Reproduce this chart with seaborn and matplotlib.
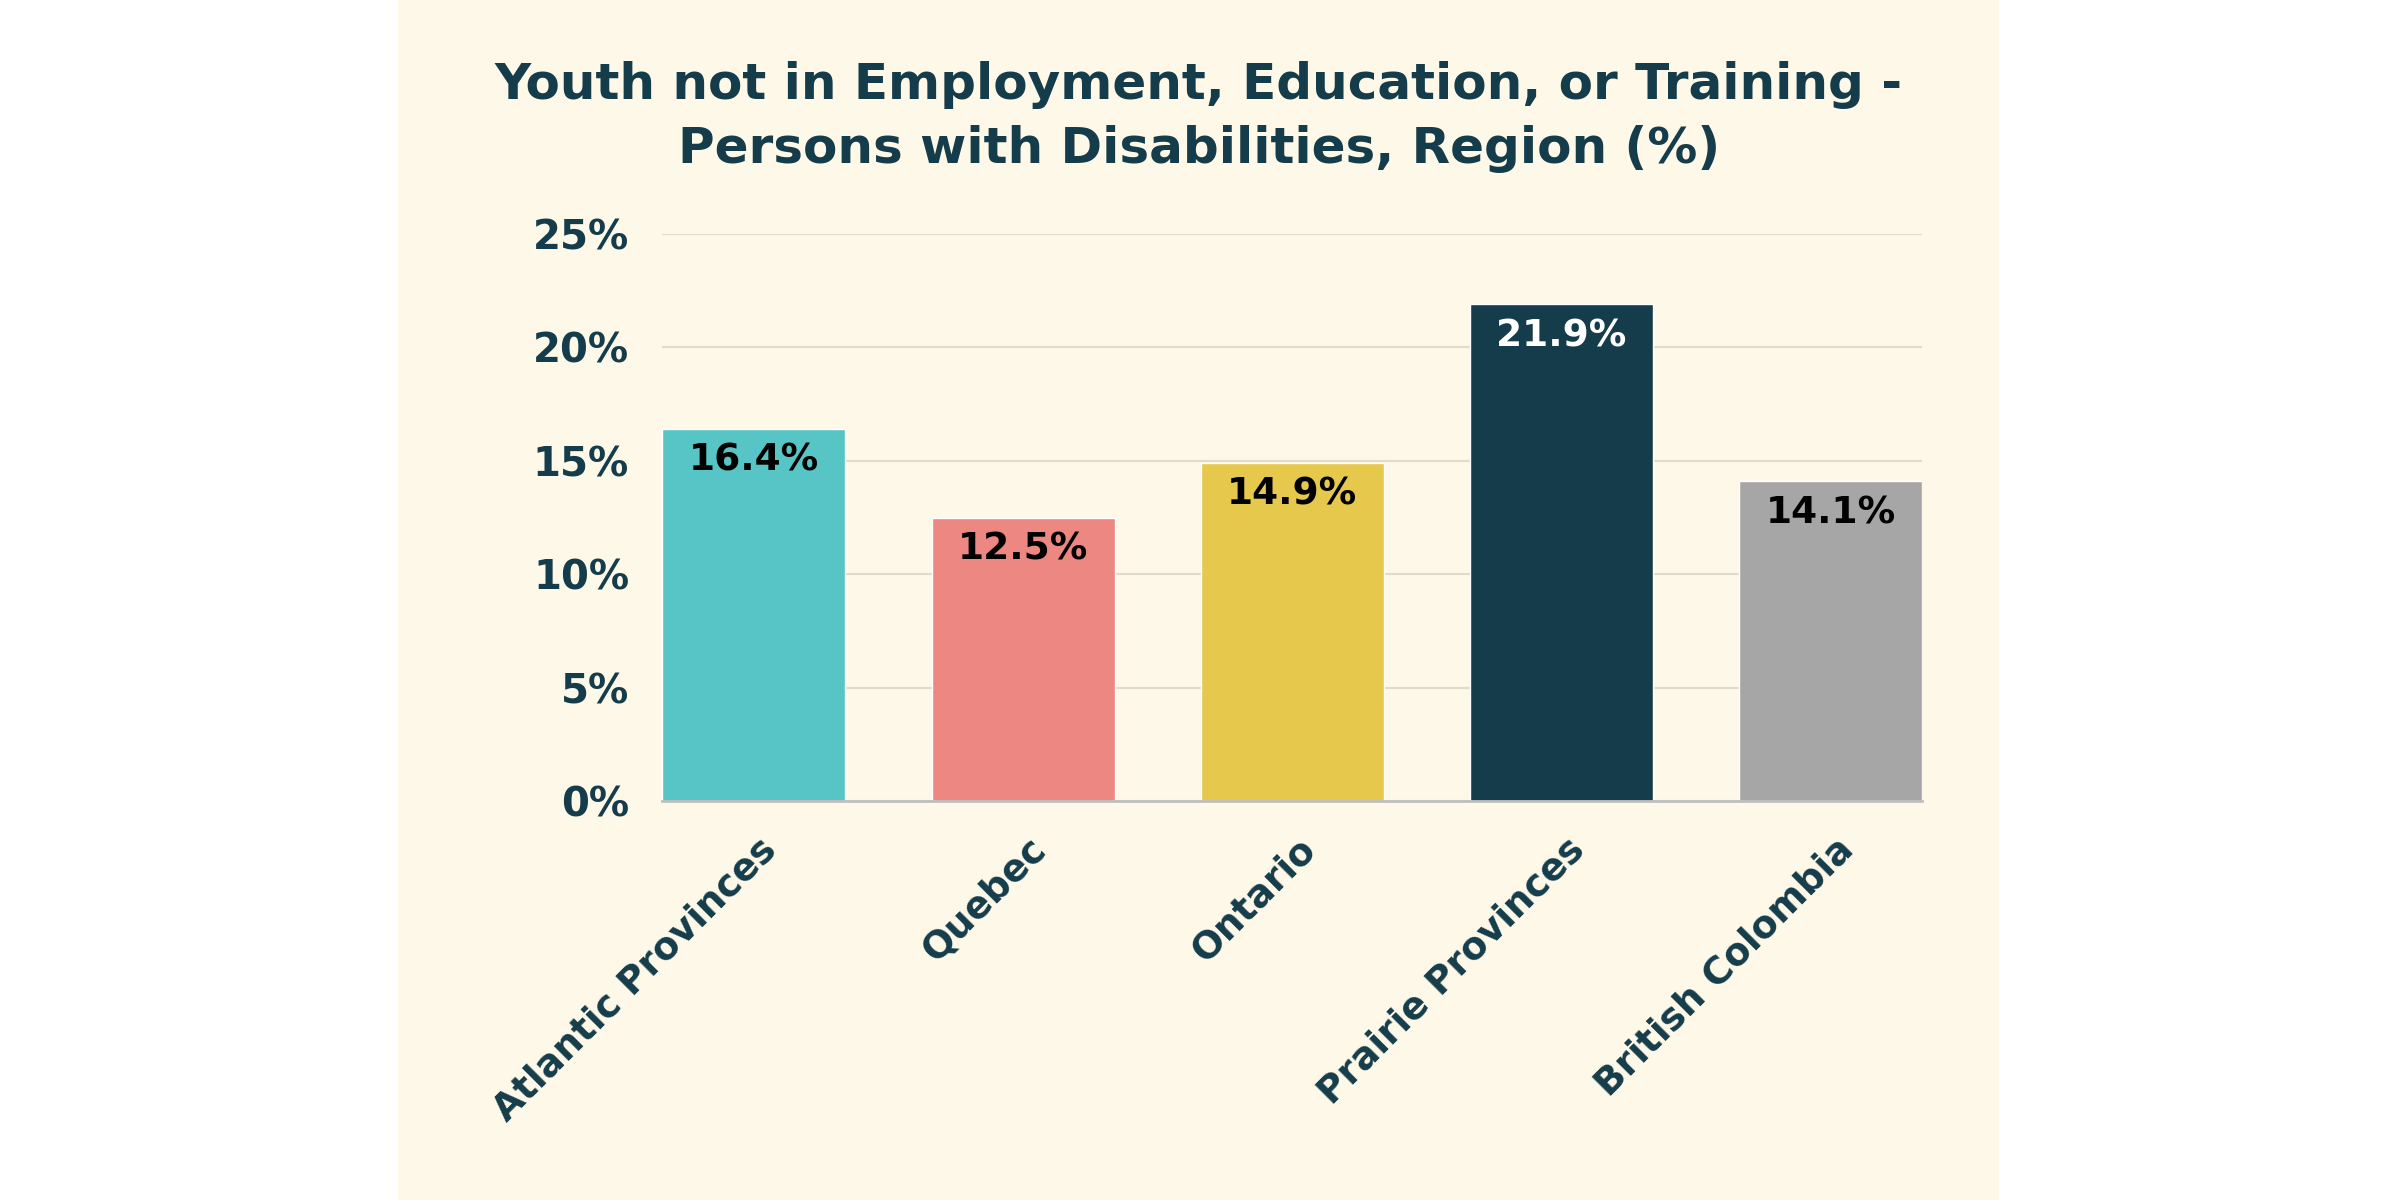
import matplotlib
matplotlib.use("Agg")
import matplotlib.pyplot as plt
import matplotlib.transforms as mtransforms
import seaborn as sns
import pandas as pd
from matplotlib.patches import Rectangle
from matplotlib.ticker import FuncFormatter

# chart data
regions = ["Atlantic Provinces", "Quebec", "Ontario", "Prairie Provinces", "British Colombia"]
neet_pct = [16.4, 12.5, 14.9, 21.9, 14.1]
bar_colors = ["#57C4C5", "#EC8781", "#E6C84D", "#143C4A", "#A6A6A6"]
label_colors = ["black", "black", "black", "white", "black"]
y_ticks = [0, 5, 10, 15, 20, 25]

TEXT = "#143C4A"
CREAM = "#FEF8E8"

sns.set_theme(style="white")
plt.rcParams["font.family"] = ["DejaVu Sans"]

df = pd.DataFrame({"region": regions, "pct": neet_pct})

fig = plt.figure(figsize=(24, 12), dpi=100)
fig.patch.set_facecolor("white")
fig.patches.append(Rectangle((0.166, 0), 0.667, 1, transform=fig.transFigure,
                             facecolor=CREAM, edgecolor="none", zorder=-10))

ax = fig.add_axes([0.276, 0.3325, 0.525, 0.4725])
ax.patch.set_alpha(0)

sns.barplot(data=df, x="region", y="pct", hue="region", palette=bar_colors,
            legend=False, width=0.68, saturation=1, ax=ax, zorder=3)

ax.set_xlim(-0.34, len(regions) - 1 + 0.34)
ax.set_ylim(0, 25)
ax.set_yticks(y_ticks)
ax.yaxis.set_major_formatter(FuncFormatter(lambda v, p: f"{v:.0f}%"))
ax.yaxis.grid(True, color="#DEDDCB", linewidth=1.5, zorder=0)
ax.set_axisbelow(True)

for s in ["top", "right", "left"]:
    ax.spines[s].set_visible(False)
ax.spines["bottom"].set_color("#BFBFBF")
ax.spines["bottom"].set_linewidth(2)
ax.spines["bottom"].set_zorder(4)

ax.tick_params(axis="y", length=0, pad=24, labelsize=29, labelcolor=TEXT)
ax.tick_params(axis="x", length=0, pad=22, labelsize=27, labelcolor=TEXT)
for t in ax.get_yticklabels():
    t.set_fontweight("bold")
ax.set_xticks(range(len(regions)))
ax.set_xticklabels(regions, rotation=45, ha="right", fontweight="bold")
shift = mtransforms.ScaledTranslation(30 / 100, 0, fig.dpi_scale_trans)
for t in ax.get_xticklabels():
    t.set_transform(t.get_transform() + shift)
ax.set_xlabel("")
ax.set_ylabel("")

# value labels inside top of bars
for bar, val, lc in zip(ax.patches, neet_pct, label_colors):
    ax.annotate(f"{val}%", (bar.get_x() + bar.get_width() / 2, bar.get_height()),
                xytext=(0, -10), textcoords="offset points", ha="center", va="top",
                fontsize=27, fontweight="bold", color=lc, zorder=5)

fig.text(0.4995, 0.9025, "Youth not in Employment, Education, or Training -\nPersons with Disabilities, Region (%)",
         ha="center", va="center", fontsize=36, fontweight="bold", color=TEXT,
         linespacing=1.4)

fig.savefig("out.png", dpi=100, facecolor=fig.get_facecolor())
